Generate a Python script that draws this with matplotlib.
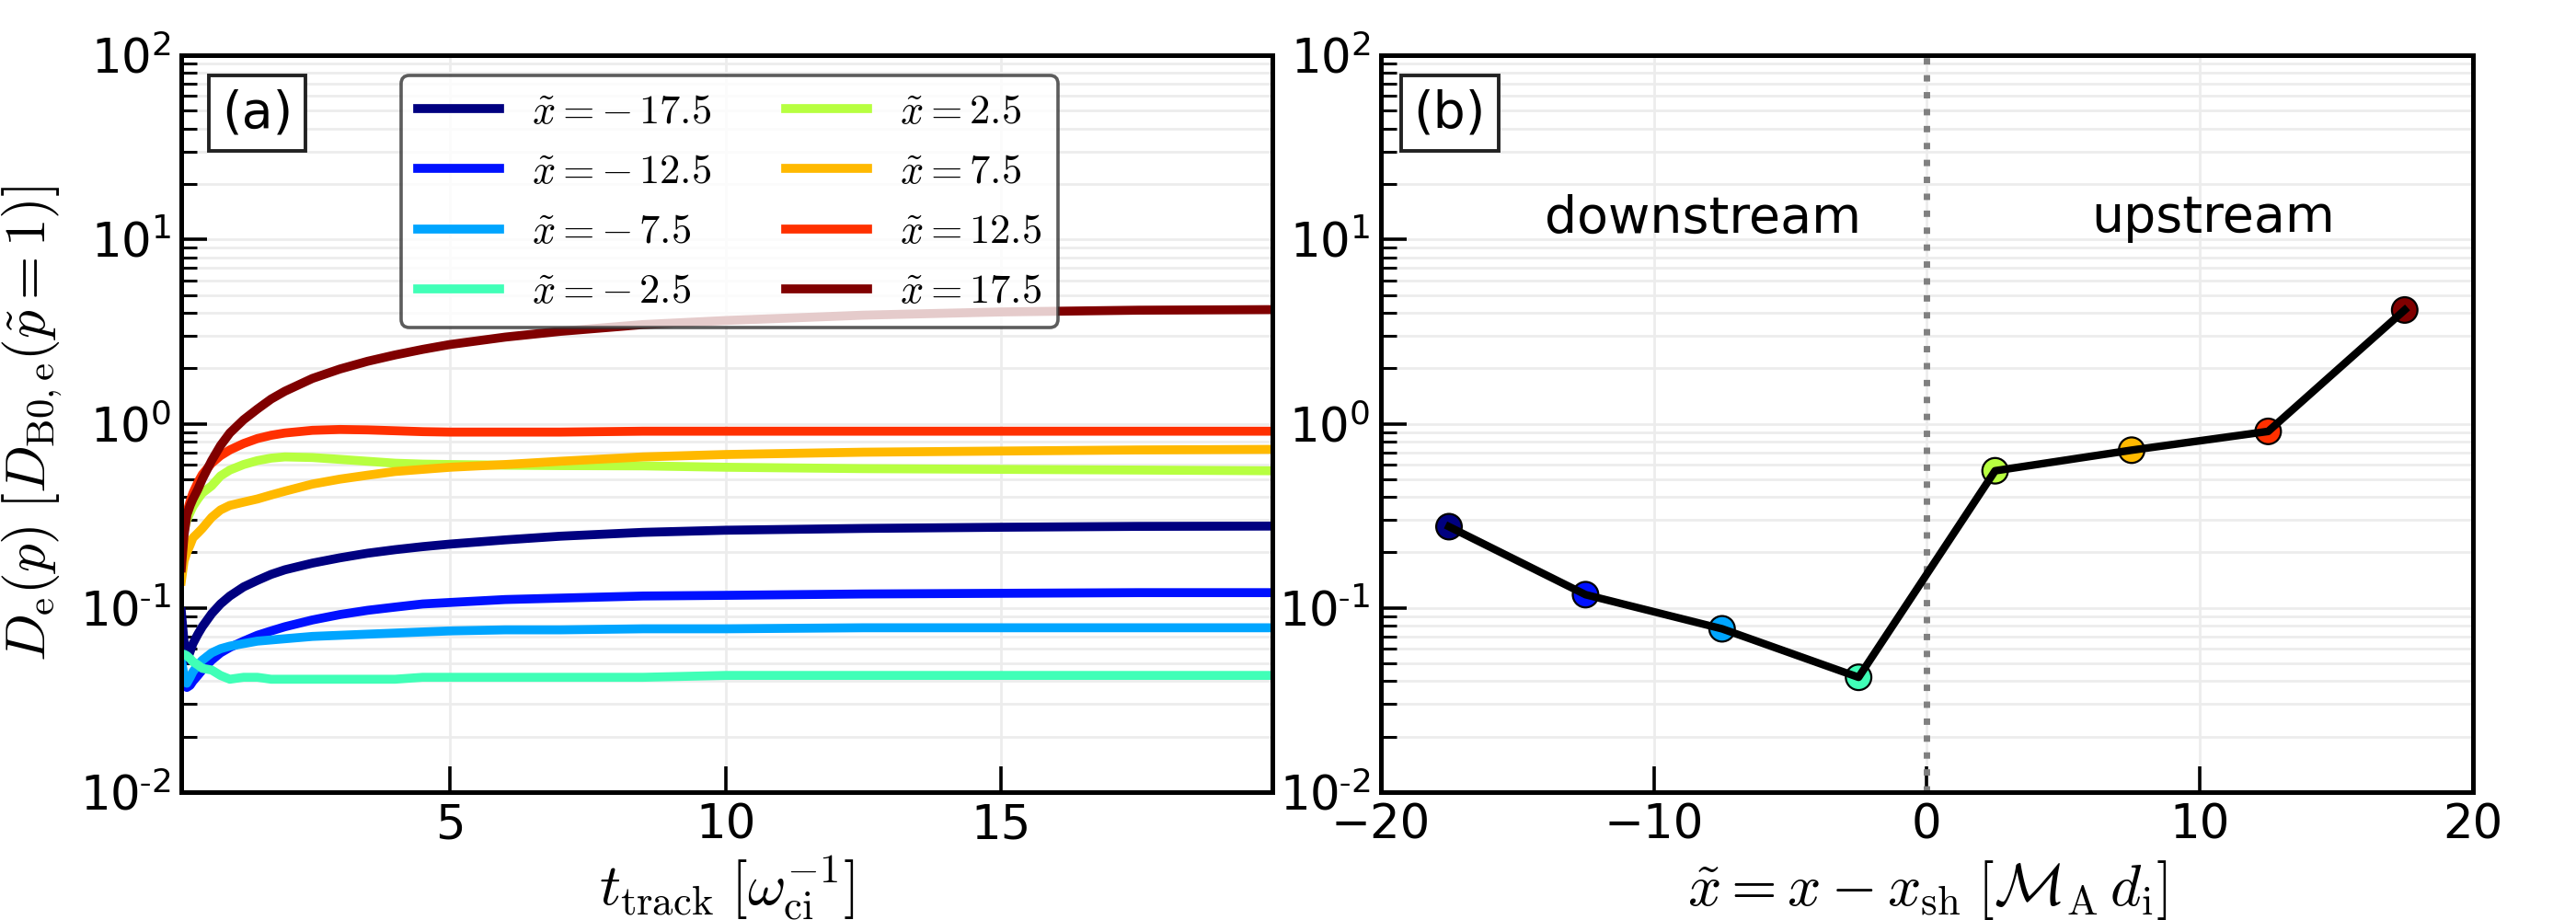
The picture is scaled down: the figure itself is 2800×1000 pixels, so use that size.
import numpy as np
import matplotlib
matplotlib.use("Agg")
import matplotlib.pyplot as plt
from matplotlib import cm
from matplotlib.ticker import FixedLocator, FuncFormatter, LogLocator, NullFormatter

plt.rcParams["mathtext.fontset"] = "cm"
plt.rcParams["font.family"] = ["DejaVu Sans"]

# tracking time [1/omega_ci]
t_track = [0.12, 0.17, 0.22, 0.28, 0.33, 0.42, 0.5, 0.67, 0.83, 1.0, 1.25, 1.5, 1.75, 2.0,
           2.5, 3.0, 3.5, 4.0, 4.5, 5.0, 6.0, 7.0, 8.5, 10.0, 12.5, 15.0, 17.5, 19.93]

# shock-frame positions
x_pos = [-17.5, -12.5, -7.5, -2.5, 2.5, 7.5, 12.5, 17.5]

# D_e(p) versus t_track, one list per position
D_m175 = [0.095, 0.065, 0.052, 0.058, 0.064, 0.072, 0.079, 0.093, 0.105, 0.116, 0.130, 0.141,
          0.152, 0.161, 0.175, 0.187, 0.198, 0.207, 0.215, 0.222, 0.234, 0.245, 0.257, 0.264,
          0.270, 0.274, 0.277, 0.278]
D_m125 = [0.045, 0.039, 0.037, 0.038, 0.040, 0.043, 0.046, 0.052, 0.057, 0.061, 0.066, 0.071,
          0.075, 0.079, 0.086, 0.092, 0.097, 0.101, 0.105, 0.107, 0.111, 0.113, 0.116, 0.117,
          0.119, 0.120, 0.121, 0.121]
D_m75 = [0.052, 0.043, 0.039, 0.042, 0.045, 0.049, 0.052, 0.057, 0.060, 0.062, 0.064, 0.066,
         0.067, 0.068, 0.070, 0.071, 0.072, 0.073, 0.074, 0.075, 0.076, 0.076, 0.077, 0.077,
         0.078, 0.078, 0.078, 0.078]
D_m25 = [0.056, 0.056, 0.055, 0.053, 0.051, 0.049, 0.047, 0.046, 0.043, 0.041, 0.042, 0.042,
         0.041, 0.041, 0.041, 0.041, 0.041, 0.041, 0.042, 0.042, 0.042, 0.042, 0.042, 0.043,
         0.043, 0.043, 0.043, 0.043]
D_p25 = [0.20, 0.26, 0.30, 0.33, 0.355, 0.39, 0.42, 0.46, 0.52, 0.56, 0.60, 0.63,
         0.65, 0.66, 0.655, 0.64, 0.625, 0.61, 0.603, 0.60, 0.595, 0.592, 0.59, 0.58,
         0.57, 0.565, 0.56, 0.555]
D_p75 = [0.14, 0.18, 0.20, 0.22, 0.24, 0.255, 0.27, 0.31, 0.34, 0.36, 0.375, 0.39,
         0.41, 0.43, 0.47, 0.50, 0.525, 0.55, 0.565, 0.58, 0.60, 0.625, 0.66, 0.68,
         0.70, 0.71, 0.72, 0.725]
D_p125 = [0.20, 0.27, 0.33, 0.38, 0.42, 0.48, 0.53, 0.61, 0.67, 0.72, 0.78, 0.83,
          0.865, 0.89, 0.92, 0.93, 0.925, 0.915, 0.905, 0.90, 0.90, 0.90, 0.91, 0.91,
          0.91, 0.91, 0.91, 0.91]
D_p175 = [0.165, 0.25, 0.32, 0.36, 0.39, 0.44, 0.50, 0.63, 0.76, 0.89, 1.05, 1.20,
          1.36, 1.50, 1.76, 1.98, 2.18, 2.36, 2.53, 2.69, 2.95, 3.17, 3.45, 3.63,
          3.88, 4.04, 4.13, 4.16]

# final D_e(p) at each position (panel b)
D_final = [0.276, 0.118, 0.077, 0.042, 0.555, 0.718, 0.908, 4.14]

curves = [D_m175, D_m125, D_m75, D_m25, D_p25, D_p75, D_p125, D_p175]
colors = cm.jet(np.linspace(0, 1, len(x_pos)))


def log_label(value, pos):
    exponent = int(round(np.log10(value)))
    if exponent < 0:
        return r"$\mathdefault{10^{\text{-}%d}}$" % (-exponent)
    return r"$\mathdefault{10^{%d}}$" % exponent


def legend_label(x0):
    if x0 < 0:
        return r"$\tilde{x}=-\,%s$" % abs(x0)
    return r"$\tilde{x}=%s$" % x0


def style_axis(ax):
    ax.set_yscale("log")
    ax.set_ylim(1e-2, 1e2)
    ax.yaxis.set_major_locator(LogLocator(base=10, numticks=10))
    ax.yaxis.set_minor_locator(LogLocator(base=10, subs=np.arange(2, 10), numticks=10))
    ax.yaxis.set_major_formatter(FuncFormatter(log_label))
    ax.yaxis.set_minor_formatter(NullFormatter())
    ax.tick_params(axis="both", which="major", direction="in", length=10, width=1.3,
                   labelsize=18.5, top=False, right=False, pad=4)
    ax.tick_params(axis="y", which="minor", direction="in", length=6, width=1.1, right=False)
    ax.tick_params(axis="x", which="minor", bottom=False, top=False)
    ax.grid(True, which="major", axis="both", color="#ececec", lw=1.0)
    ax.grid(True, which="minor", axis="y", color="#ececec", lw=1.0)
    ax.set_axisbelow(True)
    for spine in ax.spines.values():
        spine.set_linewidth(1.8)


fig = plt.figure(figsize=(14, 5), dpi=200)
ax1 = fig.add_axes([0.0704, 0.139, 0.4236, 0.801])
ax2 = fig.add_axes([0.536, 0.139, 0.424, 0.801])

# panel (a)
for x0, values, color in zip(x_pos, curves, colors):
    ax1.plot(t_track, values, color=color, lw=3.5, label=legend_label(x0))
style_axis(ax1)
ax1.set_xlim(0.12, 19.93)
ax1.xaxis.set_major_locator(FixedLocator([5, 10, 15]))
ax1.set_xlabel(r"$t_{\rm track}\;[\omega_{\rm ci}^{-1}]$", fontsize=23, labelpad=2)
ax1.set_ylabel(r"$D_{\rm e}(p)\;[D_{\rm B0,e}(\tilde{p}=1)]$", fontsize=22, labelpad=6)
leg = ax1.legend(ncol=2, loc="upper left", bbox_to_anchor=(0.2015, 0.9725), borderaxespad=0,
                 fontsize=16, handlelength=2.0, handletextpad=0.8, columnspacing=1.8,
                 labelspacing=0.5, framealpha=0.8, fancybox=True)
leg.get_frame().set_edgecolor("#333333")
leg.get_frame().set_linewidth(1.3)
ax1.text(0.037, 0.955, "(a)", transform=ax1.transAxes, fontsize=20, ha="left", va="top",
         bbox=dict(boxstyle="square,pad=0.25", fc="white", ec="#222222", lw=1.4))

# panel (b)
ax2.axvline(0, color="gray", ls=":", lw=2.5, zorder=1)
ax2.scatter(x_pos, D_final, s=100, c=colors, edgecolors="black", linewidths=0.8, zorder=3)
ax2.plot(x_pos, D_final, color="black", lw=3.0, zorder=4)
style_axis(ax2)
ax2.set_xlim(-20, 20)
ax2.xaxis.set_major_locator(FixedLocator([-20, -10, 0, 10, 20]))
ax2.set_xlabel(r"$\tilde{x}=x-x_{\rm sh}\;[\mathcal{M}_{\rm A}\,d_{\rm i}]$", fontsize=23, labelpad=4)
ax2.text(-8.2, 13, "downstream", fontsize=20, ha="center", va="center")
ax2.text(10.5, 13, "upstream", fontsize=20, ha="center", va="center")
ax2.text(0.03, 0.955, "(b)", transform=ax2.transAxes, fontsize=20, ha="left", va="top",
         bbox=dict(boxstyle="square,pad=0.25", fc="white", ec="#222222", lw=1.4))

fig.savefig("out.png", dpi=200)
